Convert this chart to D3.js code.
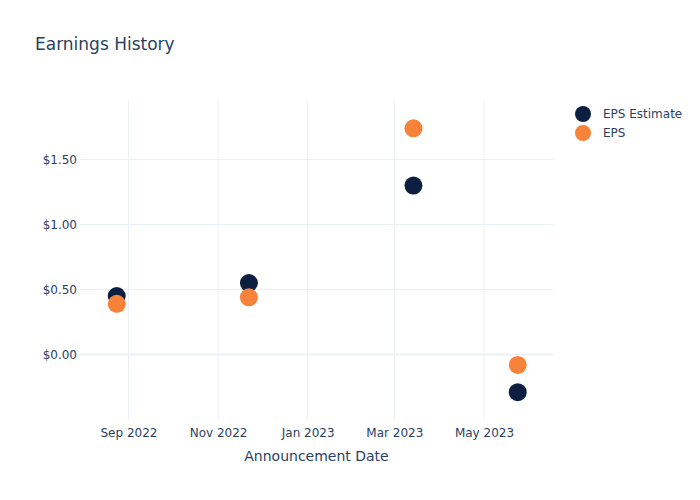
<!DOCTYPE html>
<html><head><meta charset="utf-8">
<script src="https://cdn.jsdelivr.net/npm/d3@7"></script>
<style>body{margin:0;background:#fff}svg{display:block}</style>
</head><body>
<script>
const dates = ["2022-08-24","2022-11-22","2023-03-14","2023-05-24"];
const epsEstimate = [0.45, 0.55, 1.30, -0.29];
const eps = [0.39, 0.44, 1.74, -0.08];
const yTicks = [0, 0.5, 1.0, 1.5];
const xTickDates = ["2022-09-01","2022-11-01","2023-01-01","2023-03-01","2023-05-01"];
const seriesNames = ["EPS Estimate","EPS"];
const colors = ["#0c1f41","#f7823a"];

const W=700,H=500, L=80, R=553, T=100, B=420;
const font = "'DejaVu Sans', Verdana, sans-serif";
const txt = "#2a3f5f";
const parse = d3.utcParse("%Y-%m-%d");
const svg = d3.select("body").append("svg").attr("width",W).attr("height",H).style("font-family",font);

const x = d3.scaleUtc().domain([parse("2022-07-30"), parse("2023-06-17")]).range([L,R]);
const y = d3.scaleLinear().domain([-0.504, 1.958]).range([B,T]);

// grid
const g = svg.append("g");
g.selectAll(".vx").data(xTickDates).join("line")
 .attr("x1",d=>x(parse(d))).attr("x2",d=>x(parse(d))).attr("y1",T).attr("y2",B)
 .attr("stroke","#ebf0f8").attr("stroke-width",1);
g.selectAll(".hy").data(yTicks).join("line")
 .attr("x1",L).attr("x2",R).attr("y1",d=>y(d)).attr("y2",d=>y(d))
 .attr("stroke","#ebf0f8").attr("stroke-width",d=>d===0?2:1);

// axes
const xAxis = d3.axisBottom(x).tickValues(xTickDates.map(parse)).tickFormat(d3.utcFormat("%b %Y")).tickSize(0).tickPadding(8);
const xa = svg.append("g").attr("transform",`translate(0,${B})`).call(xAxis);
xa.select(".domain").remove();
xa.selectAll("text").attr("fill",txt).style("font-size","12px").style("font-family",font);

const yAxis = d3.axisLeft(y).tickValues(yTicks).tickFormat(d=>(d<0?"-$":"$")+d3.format(".2f")(Math.abs(d))).tickSize(0).tickPadding(3);
const ya = svg.append("g").attr("transform",`translate(${L},0)`).call(yAxis);
ya.select(".domain").remove();
ya.selectAll("text").attr("fill",txt).style("font-size","12px").style("font-family",font);

// points
const series = [epsEstimate, eps];
series.forEach((vals,i)=>{
  svg.append("g").selectAll("circle").data(vals).join("circle")
   .attr("cx",(d,j)=>x(parse(dates[j]))).attr("cy",d=>y(d)).attr("r",9)
   .attr("fill",colors[i]);
});

// title
svg.append("text").attr("x",35).attr("y",50).text("Earnings History")
 .attr("fill",txt).style("font-size","17px");
svg.append("text").attr("x",(L+R)/2).attr("y",461).attr("text-anchor","middle")
 .text("Announcement Date").attr("fill",txt).style("font-size","14px");

// legend
const lg = svg.append("g");
seriesNames.forEach((n,i)=>{
  lg.append("circle").attr("cx",583).attr("cy",114+i*19).attr("r",8).attr("fill",colors[i]);
  lg.append("text").attr("x",603).attr("y",118+i*19).text(n).attr("fill",txt).style("font-size","12px");
});
</script>
</body></html>
